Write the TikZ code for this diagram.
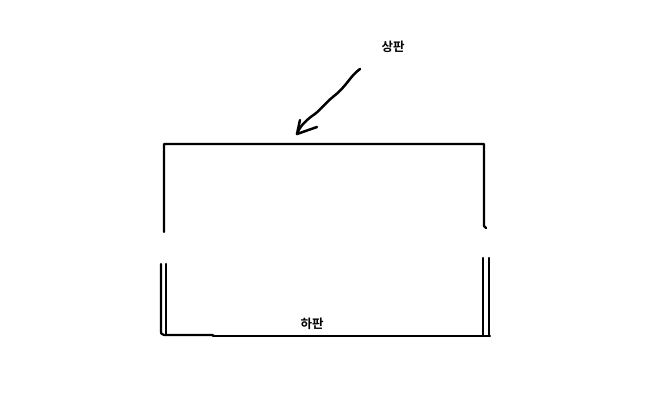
\documentclass[tikz,border=0pt]{standalone}
\usepackage{fontspec}
\usepackage{xcolor}
\usepackage{tikz}
\usetikzlibrary{arrows.meta, positioning}
\newfontfamily\kofont{Noto Sans CJK KR}[BoldFont={* Bold}]
\tikzset{
  pen/.style={draw=black, line width=2.2pt, line cap=round, line join=round},
  platelabel/.style={font=\kofont\bfseries\fontsize{12.5}{14}\selectfont, inner sep=0pt}
}

\begin{document}
\begin{tikzpicture}[x=1pt, y=-1pt]
    \useasboundingbox (0,0) rectangle (650,400);

    % Top plate
    \draw[pen] (164,232) -- (164,144) -- (484,144) -- (484,226) -- (486,228);

    % Bottom plate
    \draw[pen] (161,264) -- (161,330) .. controls (161,334) .. (164,335) -- (213,335);
    \draw[pen] (166,264) -- (166,335);
    \draw[pen] (213,336) -- (490,336);
    \draw[pen] (483,258) -- (483,336);
    \draw[pen] (489,258) -- (489,336);
    \draw[pen, line width=2.8pt] (467,336) -- (483,336);

    % Labels
    \node[platelabel] (top) at (393,47) {상판};
    \node[platelabel] (bottom) at (312,324) {하판};

    % Hand-drawn arrow
    \coordinate (arrowstart) at (360,69);
    \coordinate (arrowtip) at (297,134);
    \draw[pen, line width=2.5pt] (arrowstart) .. controls (350,76) and (346,87) .. (334,96)
        .. controls (323,105) and (320,111) .. (312,116)
        .. controls (304,122) and (299,128) .. (arrowtip);
    \draw[pen, line width=2.5pt] (300,120) -- (arrowtip) -- (317,127);
\end{tikzpicture}
\end{document}
